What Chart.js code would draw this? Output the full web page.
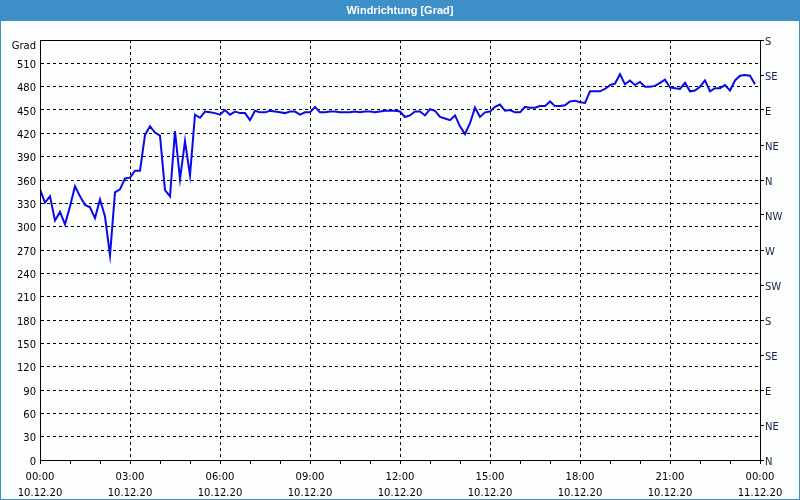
<!DOCTYPE html>
<html><head><meta charset="utf-8">
<script src="https://cdn.jsdelivr.net/npm/chart.js@4"></script>
<style>html,body{margin:0;padding:0;background:#fff}canvas{display:block}</style>
</head><body>
<canvas id="c" width="800" height="500"></canvas>
<script>
const chartTitle = 'Windrichtung [Grad]';
const axisUnit = 'Grad';
const intervalMinutes = 10;
const windDirection = [
  348,331,339,308,319,303,326,352,339,328,325,311,335,313,263,344,348,362,363,372,
  372,418,429,421,417,347,339,423,361,410,366,444,440,448,447,446,444,450,444,448,
  446,446,437,449,447,447,449,448,447,446,448,448,444,447,447,454,447,447,448,448,
  447,447,447,448,447,448,448,447,448,449,449,449,448,441,443,448,448,443,451,449,
  441,439,437,443,429,419,433,453,441,447,448,454,457,449,450,447,447,454,453,453,
  455,455,461,455,455,456,461,462,460,459,474,474,474,477,482,484,496,483,488,482,
  486,480,480,481,485,489,479,478,477,485,474,475,480,488,474,478,478,482,475,488,
  494,495,494,483
];
const timeTickLabels = ['00:00','03:00','06:00','09:00','12:00','15:00','18:00','21:00','00:00'];
const dateTickLabels = ['10.12.20','10.12.20','10.12.20','10.12.20','10.12.20','10.12.20','10.12.20','10.12.20','11.12.20'];
const compassLabels = ['N','NE','E','SE','S','SW','W','NW','N','NE','E','SE','S'];

const FONT = 'DejaVu Sans';
const frameBlue = '#3d8fc7';

const decor = {
  id: 'decor',
  beforeDraw(chart) {
    const ctx = chart.ctx, w = chart.width, h = chart.height;
    ctx.save();
    ctx.fillStyle = '#fcfefd';
    ctx.fillRect(0, 0, w, h);
    ctx.fillStyle = frameBlue;
    ctx.fillRect(0, 0, w, 21);
    ctx.fillStyle = '#ffffff';
    ctx.font = 'bold 11px "Liberation Sans"';
    ctx.textAlign = 'center';
    ctx.textBaseline = 'middle';
    ctx.fillText(chartTitle, w / 2, 11);
    ctx.strokeStyle = frameBlue;
    ctx.lineWidth = 1;
    ctx.strokeRect(0.5, 0.5, w - 1, h - 1);
    ctx.restore();
  },
  afterDraw(chart) {
    const ctx = chart.ctx, a = chart.chartArea;
    ctx.save();
    ctx.strokeStyle = '#000';
    ctx.lineWidth = 1;
    ctx.strokeRect(Math.round(a.left) + 0.5, Math.round(a.top) + 0.5, Math.round(a.right - a.left), Math.round(a.bottom - a.top));
    ctx.fillStyle = '#000';
    ctx.font = '10px "' + FONT + '"';
    ctx.textAlign = 'right';
    ctx.textBaseline = 'middle';
    ctx.fillText(axisUnit, a.left - 4, chart.scales.y.getPixelForValue(540) + 6);
    ctx.restore();
  }
};

new Chart(document.getElementById('c'), {
  type: 'line',
  data: {
    datasets: [{
      data: windDirection.map((v, i) => ({ x: i * intervalMinutes / 60, y: v })),
      borderColor: '#0a0ae8',
      borderWidth: 2,
      pointRadius: 0,
      tension: 0,
      fill: false,
      yAxisID: 'y'
    }]
  },
  options: {
    responsive: false,
    animation: false,
    devicePixelRatio: 1,
    layout: { padding: { top: 40, left: 1, right: 1, bottom: 1 } },
    plugins: { legend: { display: false }, tooltip: { enabled: false } },
    scales: {
      x: {
        type: 'linear', min: 0, max: 24, position: 'bottom',
        afterFit(s) { s.height = 39; },
        ticks: {
          stepSize: 1, autoSkip: false, maxRotation: 0, padding: 5,
          color: '#000', font: { family: FONT, size: 10, lineHeight: 1.6 },
          callback: v => (v % 3 === 0) ? [timeTickLabels[v / 3], dateTickLabels[v / 3]] : ''
        },
        grid: {
          color: c => (c.tick && c.tick.value % 3 === 0 && c.tick.value > 0 && c.tick.value < 24) ? '#000' : 'rgba(0,0,0,0)',
          tickColor: '#000', tickLength: 4, drawTicks: true, tickBorderDash: []
        },
        border: { display: true, color: '#000', dash: [3, 3] }
      },
      y: {
        type: 'linear', min: 0, max: 540, position: 'left',
        afterFit(s) { s.width = 39; },
        ticks: {
          stepSize: 30, padding: 4, color: '#000', labelOffset: 2,
          font: { family: FONT, size: 10 },
          callback: v => v === 540 ? '' : String(v)
        },
        grid: {
          color: c => (c.tick && c.tick.value > 0 && c.tick.value < 540) ? '#000' : 'rgba(0,0,0,0)',
          drawTicks: false
        },
        border: { display: true, color: '#000', dash: [3, 3] }
      },
      y2: {
        type: 'linear', min: 0, max: 540, position: 'right',
        afterFit(s) { s.width = 39; },
        ticks: {
          stepSize: 45, padding: 1, color: '#1a1f4a', labelOffset: 2,
          font: { family: FONT, size: 10 },
          callback: v => compassLabels[Math.round(v / 45)]
        },
        grid: { drawOnChartArea: false, drawTicks: true, tickLength: 4, color: '#000', tickColor: '#000' },
        border: { display: true, color: '#000' }
      }
    }
  },
  plugins: [decor]
});
</script>
</body></html>
